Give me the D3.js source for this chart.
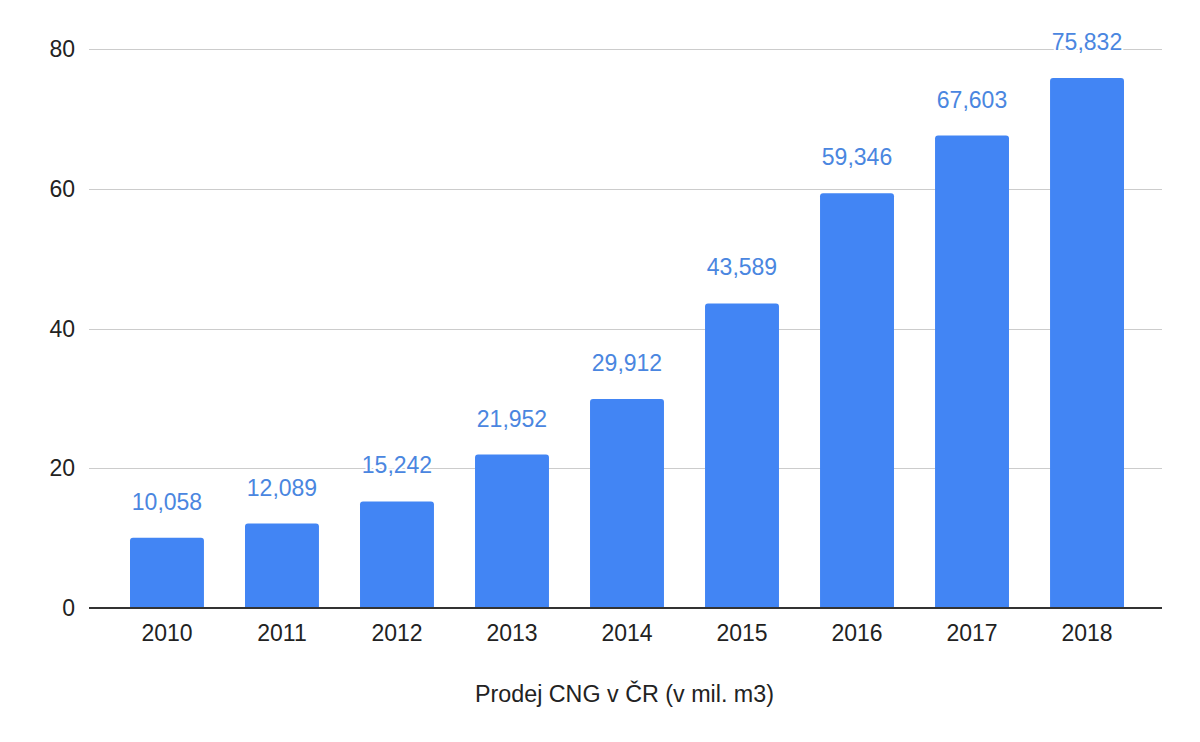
<!DOCTYPE html>
<html><head><meta charset="utf-8">
<script src="https://cdn.jsdelivr.net/npm/d3@7"></script>
<style>body{margin:0;background:#fff}svg{display:block;font-family:Arial,"Liberation Sans",sans-serif}</style>
</head><body>
<svg id="c" width="1200" height="742"></svg>
<script>
const years = ["2010","2011","2012","2013","2014","2015","2016","2017","2018"];
const values = [10.058, 12.089, 15.242, 21.952, 29.912, 43.589, 59.346, 67.603, 75.832];
const valueLabels = ["10,058","12,089","15,242","21,952","29,912","43,589","59,346","67,603","75,832"];
const yTicks = [0, 20, 40, 60, 80];
const axisTitle = "Prodej CNG v ČR (v mil. m3)";

(function () {
const svg = d3.select("#c");
const mLeft = 89, mRight = 1162, mTop = 49, mBottom = 608;
const y = d3.scaleLinear().domain([0, 80]).range([mBottom, mTop]);
const x = d3.scaleBand().domain(years).range([90.5, 1163.5]).paddingInner(0.357).paddingOuter(0.3435);

// gridlines
svg.append("g").selectAll("line").data(yTicks.filter(d => d !== 0)).join("line")
  .attr("x1", mLeft).attr("x2", mRight)
  .attr("y1", d => Math.round(y(d)) + 0.5).attr("y2", d => Math.round(y(d)) + 0.5)
  .attr("stroke", "#cccccc").attr("stroke-width", 1);

// y tick labels
svg.append("g").selectAll("text").data(yTicks).join("text")
  .attr("x", 75).attr("y", d => y(d)).attr("dy", "0.35em")
  .attr("text-anchor", "end").attr("font-size", 23).attr("fill", "#222")
  .text(d => d);

// bars with rounded top
const r = 3;
svg.append("g").selectAll("path").data(values).join("path")
  .attr("fill", "#4285f4")
  .attr("d", (d, i) => {
    const x0 = x(years[i]), w = x.bandwidth(), y0 = y(d), y1 = y(0);
    return `M${x0},${y1}V${y0 + r}Q${x0},${y0} ${x0 + r},${y0}H${x0 + w - r}Q${x0 + w},${y0} ${x0 + w},${y0 + r}V${y1}Z`;
  });

// baseline
svg.append("line").attr("x1", mLeft).attr("x2", mRight)
  .attr("y1", y(0)).attr("y2", y(0)).attr("stroke", "#333").attr("stroke-width", 2);

// value labels with halo
svg.append("g").selectAll("text").data(values).join("text")
  .attr("x", (d, i) => x(years[i]) + x.bandwidth() / 2)
  .attr("y", d => y(d) - 28)
  .attr("text-anchor", "middle").attr("font-size", 23).attr("fill", "#4a86e0")
  .attr("stroke", "#fff").attr("stroke-width", 4).attr("paint-order", "stroke")
  .text((d, i) => valueLabels[i]);

// x labels
svg.append("g").selectAll("text").data(years).join("text")
  .attr("x", d => x(d) + x.bandwidth() / 2).attr("y", 641)
  .attr("text-anchor", "middle").attr("font-size", 23).attr("fill", "#222")
  .text(d => d);

// axis title
svg.append("text").attr("x", (mLeft + mRight) / 2 - 1).attr("y", 701.5)
  .attr("text-anchor", "middle").attr("font-size", 23.3).attr("fill", "#222")
  .text(axisTitle);
})();
</script>
</body></html>
